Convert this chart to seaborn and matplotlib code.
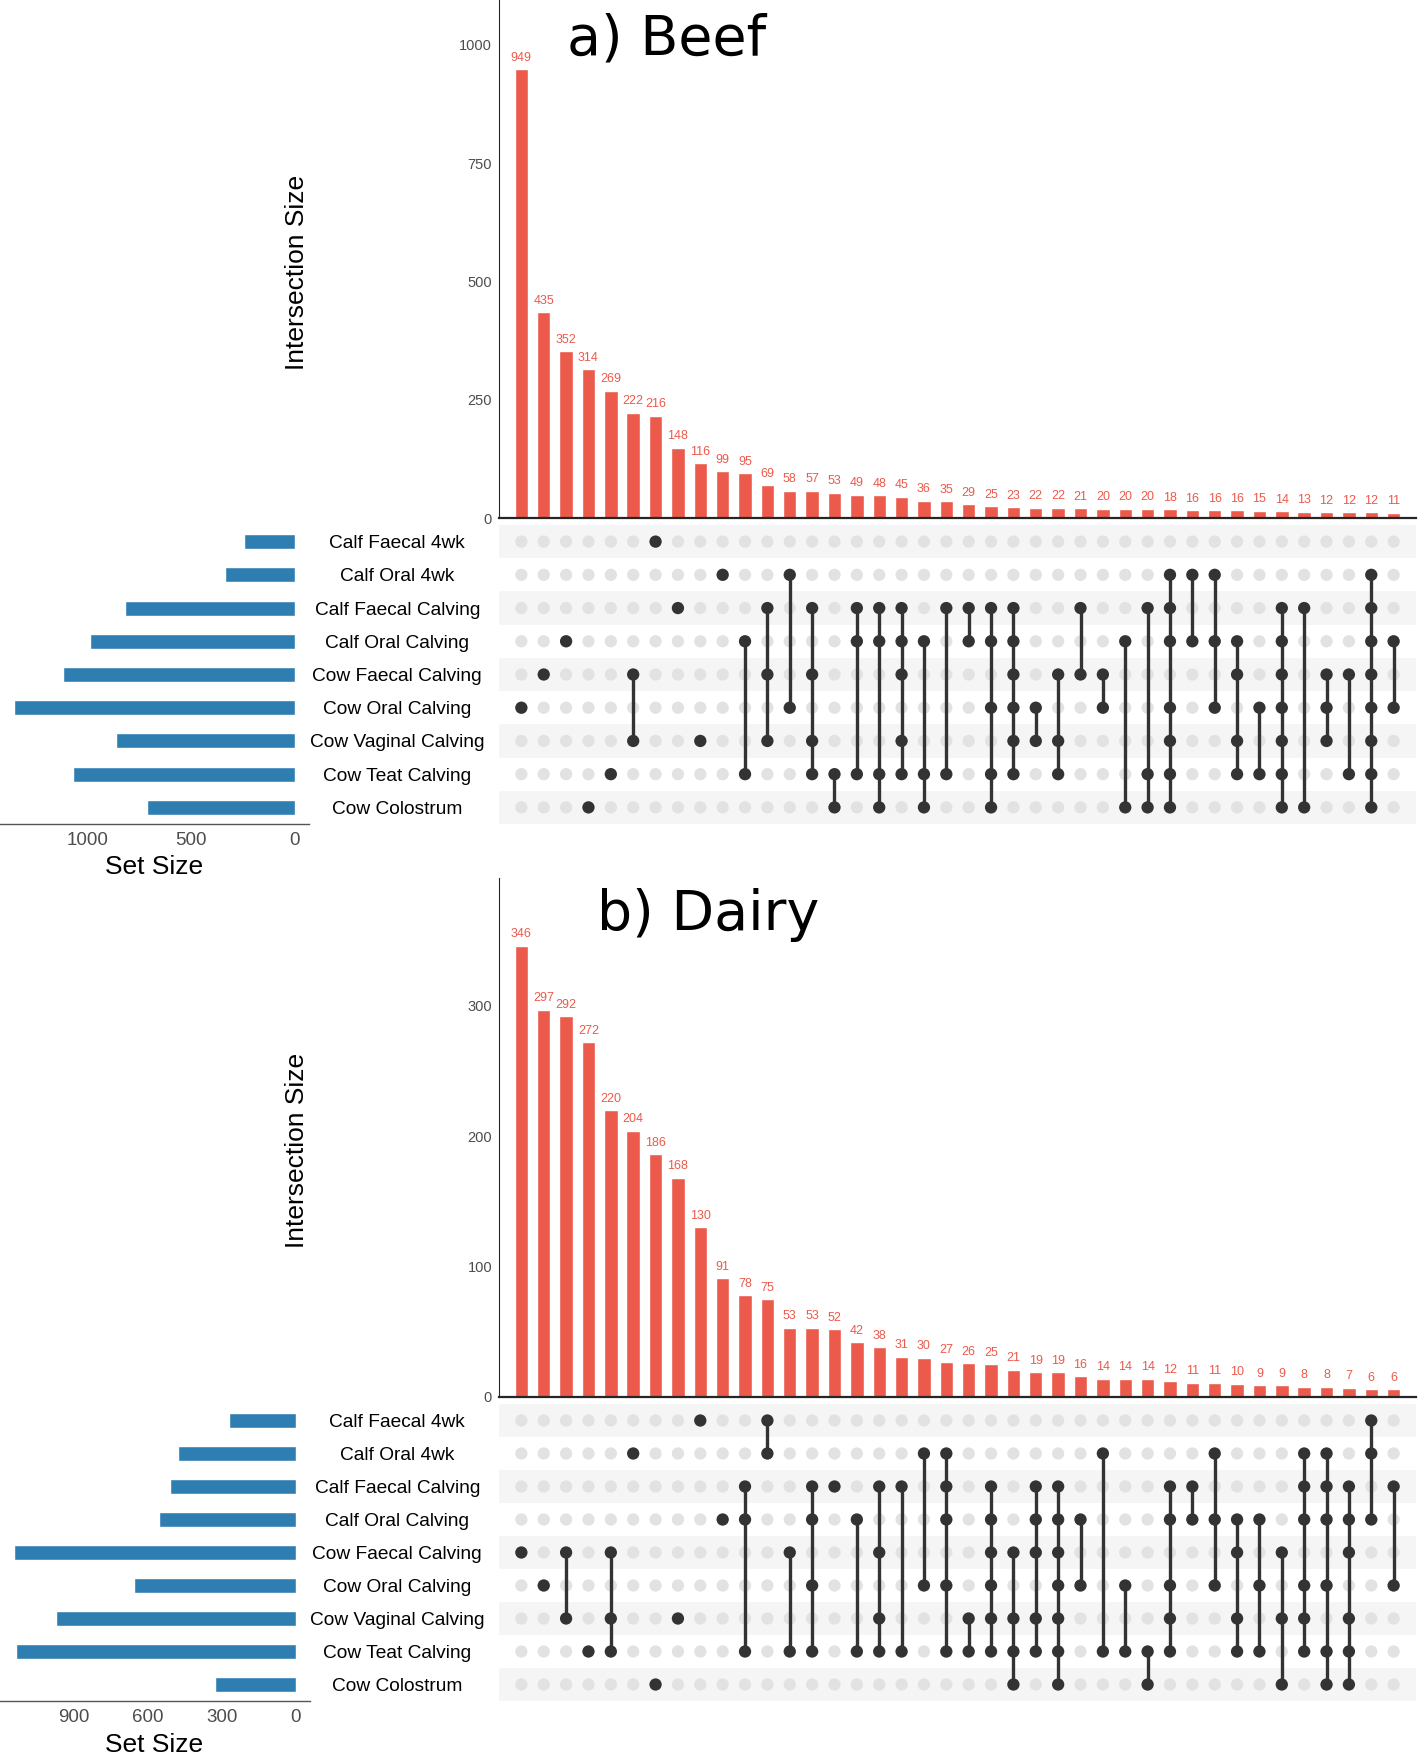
"""
UpSet plots: shared taxa between sample types, beef vs dairy
"""
import matplotlib
matplotlib.use("Agg")
import matplotlib.pyplot as plt
import pandas as pd
import seaborn as sns

W, H = 1418, 1755

set_names = ["Calf Faecal 4wk", "Calf Oral 4wk", "Calf Faecal Calving", "Calf Oral Calving",
             "Cow Faecal Calving", "Cow Oral Calving", "Cow Vaginal Calving",
             "Cow Teat Calving", "Cow Colostrum"]

# a) Beef
beef_inter_sizes = [949, 435, 352, 314, 269, 222, 216, 148, 116, 99, 95, 69, 58, 57, 53, 49, 48, 45, 36, 35,
                    29, 25, 23, 22, 22, 21, 20, 20, 20, 18, 16, 16, 16, 15, 14, 13, 12, 12, 12, 11]
beef_members = [[5], [4], [3], [8], [7], [4, 6], [0], [2], [6], [1],
                [3, 7], [2, 4, 6], [1, 5], [2, 4, 6, 7], [7, 8], [2, 3, 7], [2, 3, 7, 8], [2, 3, 4, 6, 7],
                [3, 7, 8], [2, 7],
                [2, 3], [2, 3, 5, 7, 8], [2, 3, 4, 5, 6, 7], [5, 6], [4, 6, 7], [2, 4], [4, 5], [3, 8],
                [2, 7, 8], [1, 2, 3, 5, 6, 7, 8],
                [1, 3], [1, 3, 5], [3, 4, 6, 7], [5, 7], [2, 3, 4, 5, 6, 7, 8], [2, 8], [4, 5, 6], [4, 7],
                [1, 2, 3, 4, 5, 6, 7, 8], [3, 5]]
beef_set_sizes = [246, 336, 818, 988, 1115, 1352, 860, 1066, 711]
beef_set_ticks = [0, 500, 1000]

# b) Dairy
dairy_inter_sizes = [346, 297, 292, 272, 220, 204, 186, 168, 130, 91, 78, 75, 53, 53, 52, 42, 38, 31, 30, 27,
                     26, 25, 21, 19, 19, 16, 14, 14, 14, 12, 11, 11, 10, 9, 9, 8, 8, 7, 6, 6]
dairy_members = [[4], [5], [4, 6], [7], [4, 6, 7], [1], [8], [6], [0], [3],
                 [2, 3, 7], [0, 1], [4, 7], [2, 3, 5, 7], [2], [3, 7], [2, 4, 6, 7], [2, 7], [1, 5],
                 [1, 2, 3, 5, 7],
                 [6, 7], [2, 3, 4, 5, 6, 7], [4, 6, 7, 8], [2, 3, 4, 6, 7], [2, 3, 4, 5, 6, 7, 8], [3, 5],
                 [1, 7], [5, 7], [7, 8], [2, 3, 5, 6, 7],
                 [2, 3], [1, 3, 5], [3, 4, 6, 7], [3, 5, 7], [4, 6, 8], [1, 2, 3, 5, 6, 7],
                 [1, 2, 3, 5, 7, 8], [2, 3, 4, 6, 7, 8], [0, 1, 3], [2, 5]]
dairy_set_sizes = [272, 478, 509, 553, 1140, 654, 970, 1131, 327]
dairy_set_ticks = [0, 300, 600, 900]

BAR_RED = "#EC5A4B"
SET_BLUE = "#2F7EB2"
DOT_DARK = "#333333"
DOT_LIGHT = "#E2E2E2"
SHADE = "#F5F5F5"
TICK_GREY = "#4D4D4D"


def box(left, top, right, bottom):
    """pixel box -> fig.add_axes rect"""
    return [left / W, 1 - bottom / H, (right - left) / W, (bottom - top) / H]


def draw_panel(fig, inter_sizes, members, set_sizes, set_ticks, y_top, y_ticks, lay, title):
    n = len(inter_sizes)
    nsets = len(set_names)

    # Intersection size bars
    ax_bar = fig.add_axes(box(499, lay["bar_top"], 1416, lay["bar_bottom"]))
    df_bar = pd.DataFrame({"col": list(range(n)), "size": inter_sizes})
    sns.barplot(data=df_bar, x="col", y="size", color=BAR_RED, saturation=1, width=0.6, ax=ax_bar)
    for i, v in enumerate(inter_sizes):
        ax_bar.annotate(str(v), (i, v), xytext=(0, 4), textcoords="offset points",
                        ha="center", va="bottom", fontsize=9, color=BAR_RED)
    ax_bar.set_xlim(-1, n)
    ax_bar.set_ylim(0, y_top)
    ax_bar.set_yticks(y_ticks)
    ax_bar.set_xticks([])
    ax_bar.set_xlabel("")
    ax_bar.set_ylabel("")
    for s in ["top", "right"]:
        ax_bar.spines[s].set_visible(False)
    ax_bar.spines["left"].set_linewidth(0.8)
    ax_bar.spines["bottom"].set_linewidth(1.6)
    ax_bar.tick_params(axis="y", labelsize=10.5, labelcolor=TICK_GREY, length=3, width=0.6, pad=2)

    # Matrix of dots
    ax_mat = fig.add_axes(box(499, lay["mat_top"], 1416, lay["mat_bottom"]))
    for r in range(0, nsets, 2):
        ax_mat.axhspan(r - 0.5, r + 0.5, color=SHADE, lw=0, zorder=0)
    grid = pd.DataFrame([(c, r) for c in range(n) for r in range(nsets)], columns=["col", "row"])
    sns.scatterplot(data=grid, x="col", y="row", color=DOT_LIGHT, s=78, edgecolor="none",
                    legend=False, ax=ax_mat, zorder=2)
    filled = pd.DataFrame([(c, r) for c, rows in enumerate(members) for r in rows], columns=["col", "row"])
    for c, rows in enumerate(members):
        if len(rows) > 1:
            ax_mat.vlines(c, min(rows), max(rows), color=DOT_DARK, lw=2.4, zorder=3)
    sns.scatterplot(data=filled, x="col", y="row", color=DOT_DARK, s=78, edgecolor="none",
                    legend=False, ax=ax_mat, zorder=4)
    ax_mat.set_xlim(-1, n)
    ax_mat.set_ylim(nsets - 0.5, -0.5)
    ax_mat.axis("off")
    for r, name in enumerate(set_names):
        ax_mat.text(-0.111, r + 0.06, name, transform=ax_mat.get_yaxis_transform(), ha="center",
                    va="center", fontsize=13.8, color="black", clip_on=False)

    # Set size bars
    ax_set = fig.add_axes(box(0, lay["mat_top"], lay["set_right"], lay["mat_bottom"]))
    df_set = pd.DataFrame({"set": set_names, "size": set_sizes})
    sns.barplot(data=df_set, y="set", x="size", order=set_names, orient="h", color=SET_BLUE,
                saturation=1, width=0.45, ax=ax_set)
    smax = max(set_sizes)
    ax_set.set_xlim(smax * 1.05, -smax * 0.05)
    ax_set.set_ylim(nsets - 0.5, -0.5)
    ax_set.set_xticks(set_ticks)
    ax_set.set_yticks([])
    ax_set.set_xlabel("")
    ax_set.set_ylabel("")
    for s in ["top", "right", "left"]:
        ax_set.spines[s].set_visible(False)
    ax_set.spines["bottom"].set_color("#555555")
    ax_set.spines["bottom"].set_linewidth(1.0)
    ax_set.tick_params(axis="x", labelsize=13.5, labelcolor=TICK_GREY, color="#555555", length=3, pad=3)

    fig.text(154 / W, 1 - lay["setlab_y"] / H, "Set Size", fontsize=19, ha="center", va="center")
    fig.text(297 / W, 1 - lay["ylab_y"] / H, "Intersection Size", fontsize=19, rotation=90,
             ha="center", va="center")
    fig.text(lay["title_x"] / W, 1 - lay["title_y"] / H, title, fontsize=40, ha="center", va="center",
             family="DejaVu Sans")


sns.set_style("white")
plt.rcParams["font.family"] = ["Liberation Sans", "DejaVu Sans"]
plt.rcParams["text.color"] = "black"

fig = plt.figure(figsize=(W / 100, H / 100), dpi=100)

beef_layout = dict(bar_top=0, bar_bottom=518, mat_top=525, mat_bottom=824, set_right=309,
                   setlab_y=867, ylab_y=272, title_x=667, title_y=39)
dairy_layout = dict(bar_top=878, bar_bottom=1397, mat_top=1404, mat_bottom=1701, set_right=310,
                    setlab_y=1745, ylab_y=1150, title_x=708, title_y=915)

draw_panel(fig, beef_inter_sizes, beef_members, beef_set_sizes, beef_set_ticks,
           1095, [0, 250, 500, 750, 1000], beef_layout, "a) Beef")
draw_panel(fig, dairy_inter_sizes, dairy_members, dairy_set_sizes, dairy_set_ticks,
           398, [0, 100, 200, 300], dairy_layout, "b) Dairy")

fig.savefig("out.png", dpi=100)
